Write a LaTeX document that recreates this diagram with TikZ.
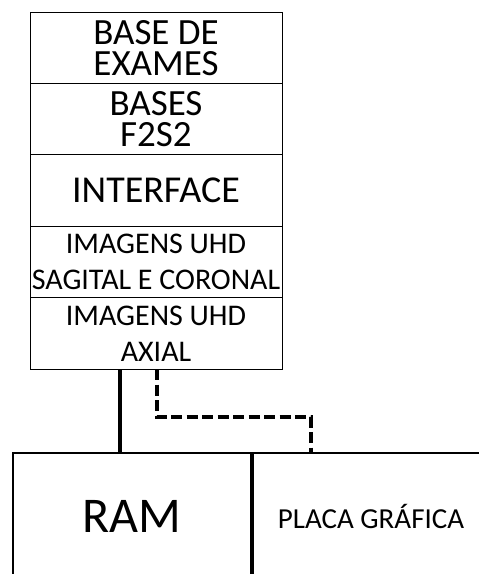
\documentclass[tikz,border=0pt]{standalone}
\usepackage{fontspec}
\setmainfont{Carlito}
\usetikzlibrary{positioning}

\begin{document}
\begin{tikzpicture}[x=1pt, y=-1pt,
  layer/.style={draw, line width=1pt, outer sep=0pt, inner sep=0pt,
                minimum width=252pt, minimum height=71.4pt, align=center,
                font=\fontsize{37}{31}\selectfont},
  thin/.style={layer, font=\fontsize{30}{36}\selectfont},
  unit/.style={draw, line width=1.2pt, outer sep=0pt, inner sep=0pt,
               minimum height=127pt, align=center},
  flow/.style={line width=3.3pt},
  dflow/.style={line width=3.5pt, dash pattern=on 11pt off 4.5pt},
]
\useasboundingbox (0,0) rectangle (479,574);

% software stack
\node[layer, anchor=north] (exames) at (156,12) {BASE DE\\EXAMES};
\node[layer, below=0pt of exames] (f2s2) {BASES\\F2S2};
\node[layer, below=0pt of f2s2, font=\fontsize{38}{44}\selectfont] (iface) {INTERFACE};
\node[thin, below=0pt of iface] (sagcor) {IMAGENS UHD\\SAGITAL E CORONAL};
\node[thin, below=0pt of sagcor] (axial) {IMAGENS UHD\\AXIAL};

% hardware
\node[unit, minimum width=238pt, anchor=north west,
      font=\fontsize{50}{60}\selectfont] (ram) at (13,453) {RAM};
\node[unit, minimum width=236pt, anchor=north west,
      font=\fontsize{29}{34}\selectfont] (gpu) at (253,453) {PLACA GRÁFICA};

\draw[flow] (axial.south -| 120,0) -- (ram.north -| 120,0);
\draw[dflow] (axial.south -| 157,0) -- ++(0,48) -| (gpu.north -| 311,0);
\end{tikzpicture}
\end{document}
